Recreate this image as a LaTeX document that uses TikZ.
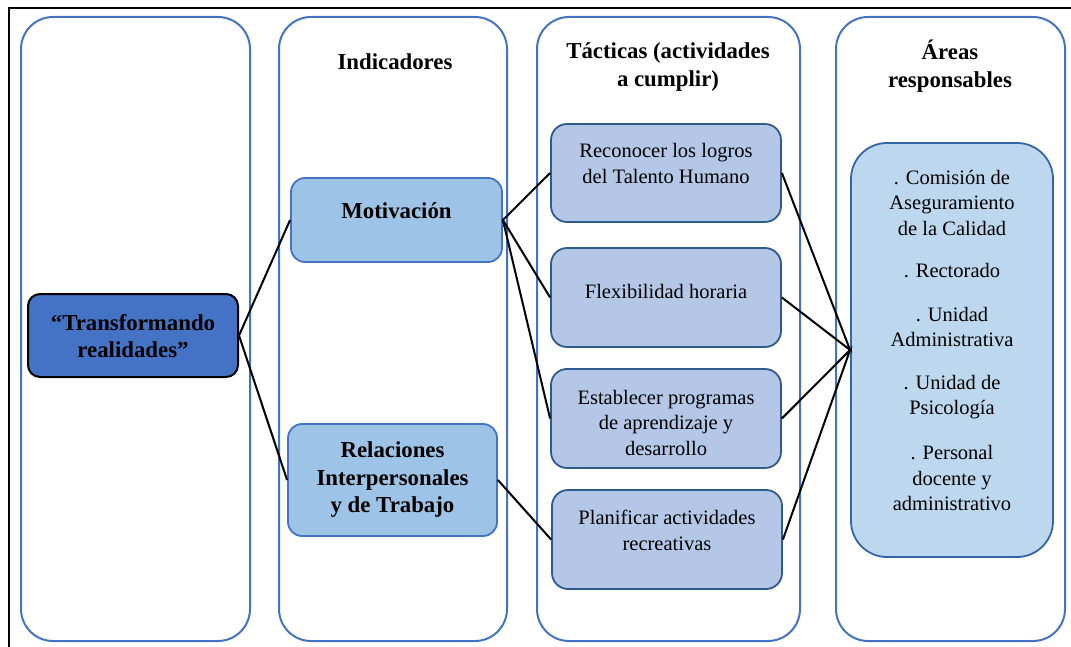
\documentclass[tikz,border=0pt]{standalone}
\usepackage{fontspec}
\setmainfont{Liberation Serif}
\definecolor{colblue}{HTML}{4472C4}
\definecolor{indfill}{HTML}{9DC3E6}
\definecolor{tacfill}{HTML}{B4C7E7}
\definecolor{tacdraw}{HTML}{2F5A8C}
\definecolor{areafill}{HTML}{BDD7EE}
\definecolor{areadraw}{HTML}{3565A8}
\begin{document}
\begin{tikzpicture}[x=1pt,y=-1pt,
  colbox/.style={draw=colblue,line width=2pt,rounded corners=32pt},
  mainbox/.style={draw=black,fill=colblue,line width=2pt,rounded corners=12pt,inner sep=0pt},
  indbox/.style={draw=colblue,fill=indfill,line width=1.8pt,rounded corners=14pt,inner sep=0pt},
  tacbox/.style={draw=tacdraw,fill=tacfill,line width=1.8pt,rounded corners=16pt,inner sep=0pt},
  areabox/.style={draw=areadraw,fill=areafill,line width=1.8pt,rounded corners=36pt,inner sep=0pt},
  txt/.style={align=center,inner sep=0pt,font=\fontsize{20.5}{25.5}\selectfont},
  btxt/.style={align=center,inner sep=0pt,font=\fontsize{22.8}{27.5}\selectfont\bfseries},
  conn/.style={draw=black,line width=2pt}
]
\useasboundingbox (0,0) rectangle (1071,647);
% outer frame
\draw[black,line width=2pt] (9,647) -- (9,8) -- (1071,8);
% columns
\draw[colbox] (21,17) rectangle (250,641);
\draw[colbox] (279,17) rectangle (507,641);
\draw[colbox] (537,17) rectangle (800,641);
\draw[colbox] (836,17) rectangle (1065,641);
% headers
\node[btxt] (h2) at (395,62) {Indicadores};
\node[btxt] (h3) at (668,67) {Tácticas (actividades\\a cumplir)};
\node[btxt] (h4) at (950,66) {Áreas\\responsables};
% main node
\node[mainbox,minimum width=210pt,minimum height=83pt] (tr) at (133,335.5) {};
\node[btxt] at (133,336) {“Transformando\\realidades”};
% indicators
\node[indbox,minimum width=211pt,minimum height=84pt] (mot) at (396.5,220) {};
\node[btxt] at (396.5,211) {Motivación};
\node[indbox,minimum width=209pt,minimum height=112pt] (rel) at (392.5,480) {};
\node[btxt] at (392.5,480) {Relaciones\\Interpersonales\\y de Trabajo};
% tactics
\node[tacbox,minimum width=230pt,minimum height=98pt] (t1) at (666,173) {};
\node[txt] at (666,163.5) {Reconocer los logros\\del Talento Humano};
\node[tacbox,minimum width=230pt,minimum height=99pt] (t2) at (666,297.5) {};
\node[txt] at (666,291) {Flexibilidad horaria};
\node[tacbox,minimum width=230pt,minimum height=99pt] (t3) at (666,418.5) {};
\node[txt] at (666,422.5) {Establecer programas\\de aprendizaje y\\desarrollo};
\node[tacbox,minimum width=230pt,minimum height=99pt] (t4) at (667,539.5) {};
\node[txt] at (667,530.5) {Planificar actividades\\recreativas};
% areas
\node[areabox,minimum width=202pt,minimum height=414pt] (ar) at (952,350) {};
\node[txt] at (952,202.5) {. Comisión de\\Aseguramiento\\de la Calidad};
\node[txt] at (952,271) {. Rectorado};
\node[txt] at (952,327) {. Unidad\\Administrativa};
\node[txt] at (952,397) {. Unidad de\\Psicología};
\node[txt] at (952,478) {. Personal\\docente y\\administrativo};
% connectors
\draw[conn] (rel.west) -- (tr.east) -- (mot.west);
\draw[conn] (t1.west) -- (mot.east) -- (t2.west);
\draw[conn] (mot.east) -- (t3.west);
\draw[conn] (rel.east) -- (t4.west);
\draw[conn] (t1.east) -- (ar.west) -- (t2.east);
\draw[conn] (t3.east) -- (ar.west) -- (t4.east);
\end{tikzpicture}
\end{document}
